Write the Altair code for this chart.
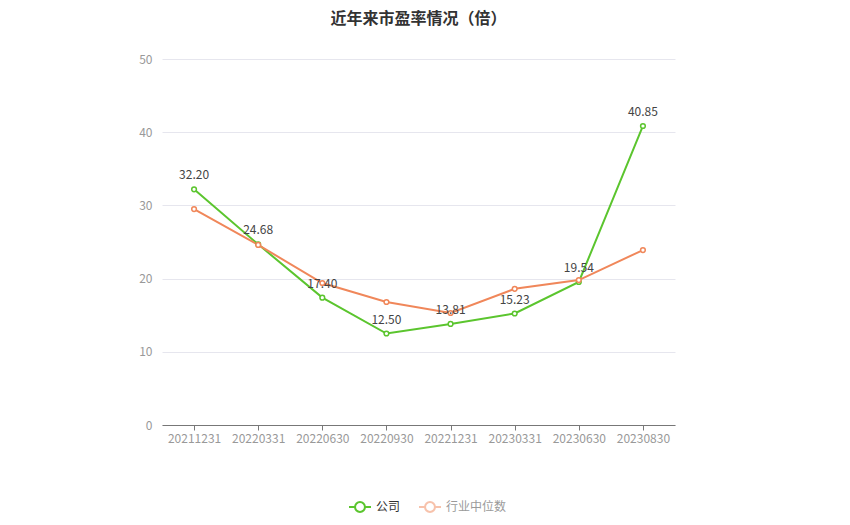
import altair as alt
import pandas as pd

dates = ["20211231", "20220331", "20220630", "20220930", "20221231", "20230331", "20230630", "20230830"]
company = [32.20, 24.68, 17.40, 12.50, 13.81, 15.23, 19.54, 40.85]
industry = [29.5, 24.6, 19.4, 16.8, 15.3, 18.6, 19.8, 23.9]
series_names = ["公司", "行业中位数"]
colors = ["#5BC52E", "#F0875A"]

rows = []
for d, v in zip(dates, company):
    rows.append({"date": d, "value": v, "series": series_names[0], "label": f"{v:.2f}"})
for d, v in zip(dates, industry):
    rows.append({"date": d, "value": v, "series": series_names[1], "label": ""})
df = pd.DataFrame(rows)

FONT = "Noto Sans CJK SC"
sym = "M-1,0L-0.45,0M0.45,0L1,0M-0.45,0A0.45,0.45,0,1,1,0.45,0A0.45,0.45,0,1,1,-0.45,0"

x = alt.X("date:N", sort=dates, title=None,
          scale=alt.Scale(paddingInner=0, paddingOuter=0.5),
          axis=alt.Axis(labelAngle=0, labelColor="#999999", labelFontSize=12, labelFont=FONT,
                        domainColor="#777777", tickColor="#777777", tickSize=5, labelPadding=3,
                        grid=False))
y = alt.Y("value:Q", title=None,
          scale=alt.Scale(domain=[0, 50]),
          axis=alt.Axis(values=[0, 10, 20, 30, 40, 50], labelColor="#999999", labelFontSize=12,
                        labelFont=FONT, domain=False, ticks=False, labelPadding=10,
                        gridColor="#E6E6EE", gridWidth=1))
color = alt.Color("series:N", sort=series_names,
                  scale=alt.Scale(domain=series_names, range=colors),
                  legend=alt.Legend(title=None, orient="none", direction="horizontal",
                                    legendX=186, legendY=436,
                                    symbolType=sym, symbolSize=484, symbolStrokeWidth=2,
                                    symbolFillColor="white",
                                    labelFont=FONT, labelFontSize=12,
                                    labelColor=alt.ExprRef("datum.label == '行业中位数' ? '#9a9a9a' : '#333333'"),
                                    symbolOpacity=alt.ExprRef("datum.label == '行业中位数' ? 0.5 : 1"),
                                    columnPadding=14, labelOffset=4))

base = alt.Chart(df)
lines = base.mark_line(strokeWidth=2).encode(x=x, y=y, color=color)
points = base.mark_point(filled=True, fill="white", size=22, strokeWidth=1.5, opacity=1).encode(
    x=x, y=y, stroke=alt.Stroke("series:N", scale=alt.Scale(domain=series_names, range=colors), legend=None))
labels = base.transform_filter(alt.datum.label != "").mark_text(
    baseline="bottom", dy=-7, fontSize=12, font=FONT, color="#444444").encode(
    x=x, y=y, text="label:N")

chart = alt.layer(lines, points, labels).properties(
    width=513, height=366,
    autosize=alt.AutoSizeParams(type="none"),
    padding={"left": 154, "top": 51, "right": 167, "bottom": 92},
    title=alt.Title("近年来市盈率情况（倍）", font=FONT, fontSize=16, fontWeight="bold",
                    color="#333333", anchor="middle", offset=26),
).configure_view(stroke=None)

chart.save("out.html", embed_options={"renderer": "svg", "actions": False})
